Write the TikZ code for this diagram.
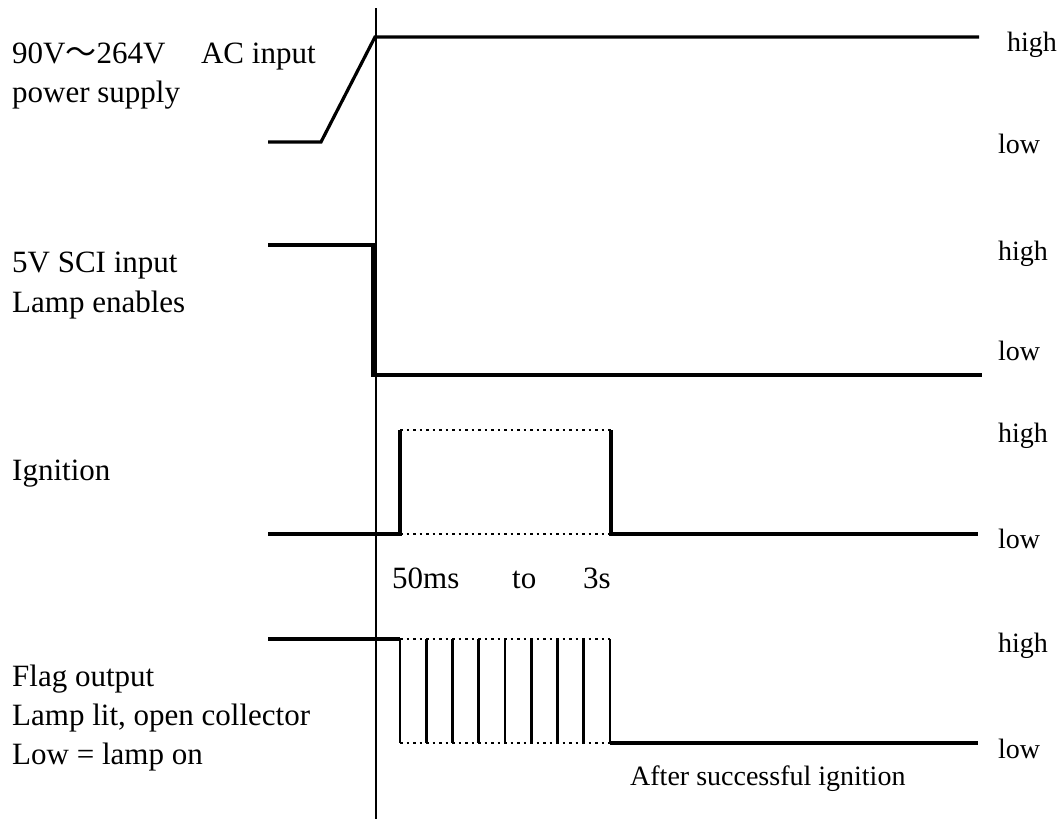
\documentclass[tikz,border=0pt]{standalone}
\usepackage{fontspec}
\setmainfont{Liberation Serif}
\newfontfamily\cjk{Noto Sans CJK SC}
\usepackage{tikz}

\begin{document}
\begin{tikzpicture}[x=1pt,y=-1pt,
    sig/.style={line width=3.2pt},
    dotsig/.style={line width=2.5pt,dash pattern=on 2.5pt off 4pt},
    sigtext/.style={anchor=base west,inner sep=0pt,font=\fontsize{31}{38}\selectfont},
    lvltext/.style={anchor=base west,inner sep=0pt,font=\fontsize{28}{34}\selectfont}]
  \useasboundingbox (0,0) rectangle (1060,819);

  % time axis
  \draw[line width=1.6pt] (376,8) -- (376,819);

  % AC input
  \draw[sig] (268,142) -- (321,142) -- (375,37) -- (979,37);
  \node[sigtext] (acA) at (12,63) {90V{\cjk ～}264V\hspace*{0.9em} AC input};
  \node[sigtext] (acB) at (12,102) {power supply};
  \node[lvltext] (acH) at (1007,51) {high};
  \node[lvltext] (acL) at (998,153) {low};

  % SCI input
  \draw[sig] (268,245) -- (373,245) -- (373,375) -- (982,375);
  \node[sigtext] (sciA) at (12,272) {5V SCI input};
  \node[sigtext] (sciB) at (12,312) {Lamp enables};
  \node[lvltext] (sciH) at (998,260) {high};
  \node[lvltext] (sciL) at (998,360) {low};

  % Ignition
  \draw[sig] (268,534) -- (400,534) -- (400,430);
  \draw[dotsig] (400,430) -- (611,430);
  \draw[dotsig] (400,534) -- (611,534);
  \draw[sig] (611,430) -- (611,534) -- (978,534);
  \node[sigtext] (ign) at (12,480) {Ignition};
  \node[sigtext] (tA) at (392,588) {50ms};
  \node[sigtext] (tB) at (512,588) {to};
  \node[sigtext] (tC) at (583,588) {3s};
  \node[lvltext] (ignH) at (998,442) {high};
  \node[lvltext] (ignL) at (998,548) {low};

  % Flag output
  \draw[sig] (268,639) -- (400,639);
  \draw[dotsig] (400,639) -- (610,639);
  \draw[dotsig] (400,743) -- (610,743);
  \foreach \i in {0,...,8}
    \draw[line width=2.7pt] ({400+26.25*\i},639) -- ({400+26.25*\i},743);
  \draw[sig] (610,743) -- (978,743);
  \node[sigtext] (flA) at (12,686) {Flag output};
  \node[sigtext] (flB) at (12,725) {Lamp lit, open collector};
  \node[sigtext] (flC) at (12,764) {Low = lamp on};
  \node[lvltext] (flH) at (998,652) {high};
  \node[lvltext] (flL) at (998,758) {low};
  \node[lvltext] (ok) at (630,785) {After successful ignition};
\end{tikzpicture}
\end{document}
